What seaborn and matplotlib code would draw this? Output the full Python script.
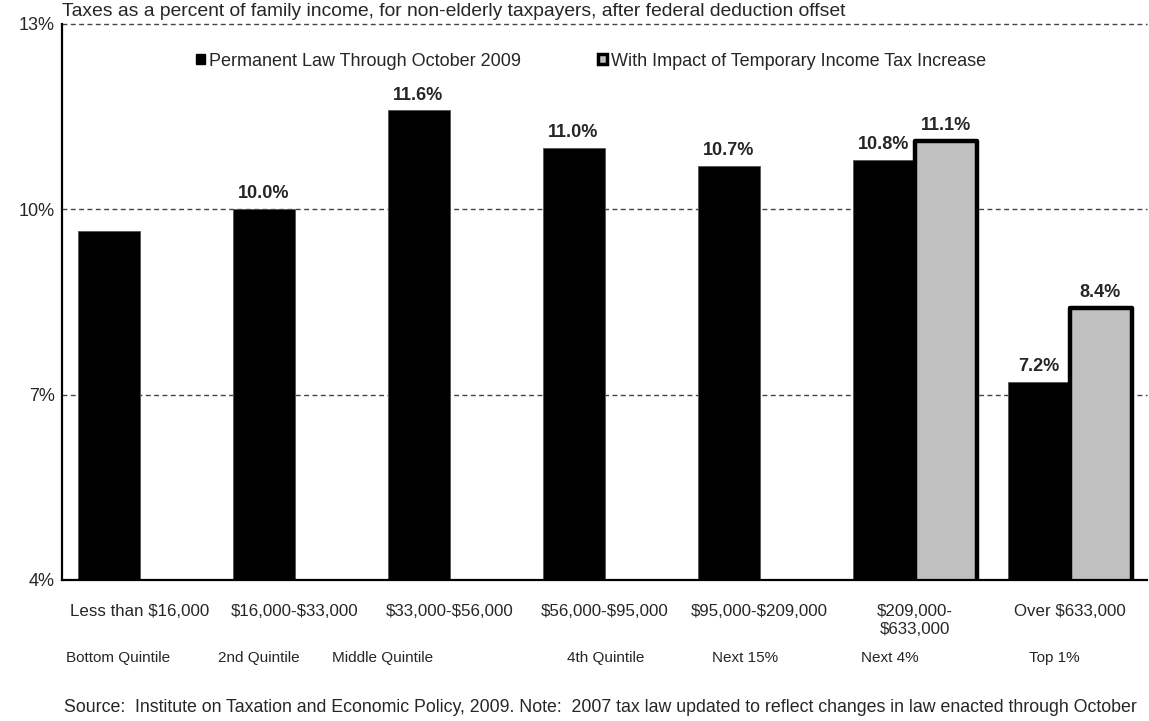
import numpy as np
import pandas as pd
import matplotlib
matplotlib.use("Agg")
import matplotlib.pyplot as plt
from matplotlib.patches import Patch
import seaborn as sns

# Income brackets and the group each one represents
brackets = ["Less than $16,000", "$16,000-$33,000", "$33,000-$56,000",
            "$56,000-$95,000", "$95,000-$209,000", "$209,000-\n$633,000",
            "Over $633,000"]
groups = ["Bottom Quintile", "2nd Quintile", "Middle Quintile", "4th Quintile",
          "Next 15%", "Next 4%", "Top 1%"]

# Tax rates (% of family income)
permanent = [9.65, 10.0, 11.6, 11.0, 10.7, 10.8, 7.2]
temporary = [np.nan, np.nan, np.nan, np.nan, np.nan, 11.1, 8.4]
show_label = [False, True, True, True, True, True, True]

series_names = ["Permanent Law Through October 2009",
                "With Impact of Temporary Income Tax Increase"]

df = pd.DataFrame({
    "bracket": brackets * 2,
    "rate": permanent + temporary,
    "scenario": [series_names[0]] * len(brackets) + [series_names[1]] * len(brackets),
})

sns.set_theme(style="white")
plt.rcParams["font.family"] = ["Liberation Sans", "DejaVu Sans"]
plt.rcParams["text.parse_math"] = False

fig = plt.figure(figsize=(11.49, 7.21), dpi=100)
ax = fig.add_axes([62 / 1149, 1 - 580 / 721, 1085 / 1149, 556 / 721])

sns.barplot(data=df, x="bracket", y="rate", hue="scenario", order=brackets,
            hue_order=series_names, palette=["black", "#C0C0C0"], width=0.8,
            saturation=1, legend=False, ax=ax, edgecolor="#555555", linewidth=0.6)

n = len(brackets)
perm_bars = list(ax.containers[0])
temp_bars = list(ax.containers[1])

# Thick black outlines on the temporary-increase bars
for p in temp_bars:
    p.set_edgecolor("black")
    p.set_linewidth(3.2)
    p.set_joinstyle("round")


def label_bar(p, value):
    ax.annotate(f"{value:.1f}%", (p.get_x() + p.get_width() / 2, value),
                xytext=(0, 5), textcoords="offset points", ha="center", va="bottom",
                fontsize=13, fontweight="bold")


# Value labels
for p in perm_bars:
    i = int(round(p.get_x() + p.get_width() / 2 + 0.2))
    if show_label[i]:
        label_bar(p, permanent[i])
for p in temp_bars:
    i = int(round(p.get_x() + p.get_width() / 2 - 0.2))
    if not np.isnan(temporary[i]):
        label_bar(p, temporary[i])

ax.set_ylim(4, 13)
ax.set_xlim(-0.5, n - 0.5)
ax.set_yticks([4, 7, 10, 13])
ax.set_yticklabels(["4%", "7%", "10%", "13%"], fontsize=13)
ax.tick_params(axis="y", length=0, pad=5)
ax.tick_params(axis="x", length=0, pad=17, labelsize=12.2)
ax.set_xticks(range(n))
ax.set_xticklabels(brackets, linespacing=1.25)
ax.set_xlabel("")
ax.set_ylabel("")

for yv in [7, 10, 13]:
    ax.axhline(yv, color="#444444", linestyle=(0, (3.5, 2.5)), linewidth=1.0,
               zorder=0.5, clip_on=False)

for side in ["top", "right"]:
    ax.spines[side].set_visible(False)
for side in ["left", "bottom"]:
    ax.spines[side].set_color("black")
    ax.spines[side].set_linewidth(1.6)

# Group names under the bracket labels
group_x = [-0.14, 0.77, 1.57, 3.01, 3.91, 4.84, 5.90]
for gx, g in zip(group_x, groups):
    ax.text(gx, -0.14, g, transform=ax.get_xaxis_transform(), ha="center",
            va="center", fontsize=11)

handles = [Patch(facecolor="black", edgecolor="black"),
           Patch(facecolor="#C0C0C0", edgecolor="black", linewidth=2.5)]
ax.legend(handles, series_names, loc="center", bbox_to_anchor=(0.4875, 0.933),
          ncol=2, frameon=False, fontsize=13, handlelength=0.5, handleheight=0.5,
          handletextpad=0.2, columnspacing=4.3)

fig.text(62 / 1149, 1 - 11 / 721,
         "Taxes as a percent of family income, for non-elderly taxpayers, after federal deduction offset",
         ha="left", va="center", fontsize=13.9)
fig.text(64 / 1149, 1 - 707 / 721,
         "Source:  Institute on Taxation and Economic Policy, 2009. Note:  2007 tax law updated to reflect changes in law enacted through October",
         ha="left", va="center", fontsize=12.8)

fig.savefig("out.png", dpi=100)
